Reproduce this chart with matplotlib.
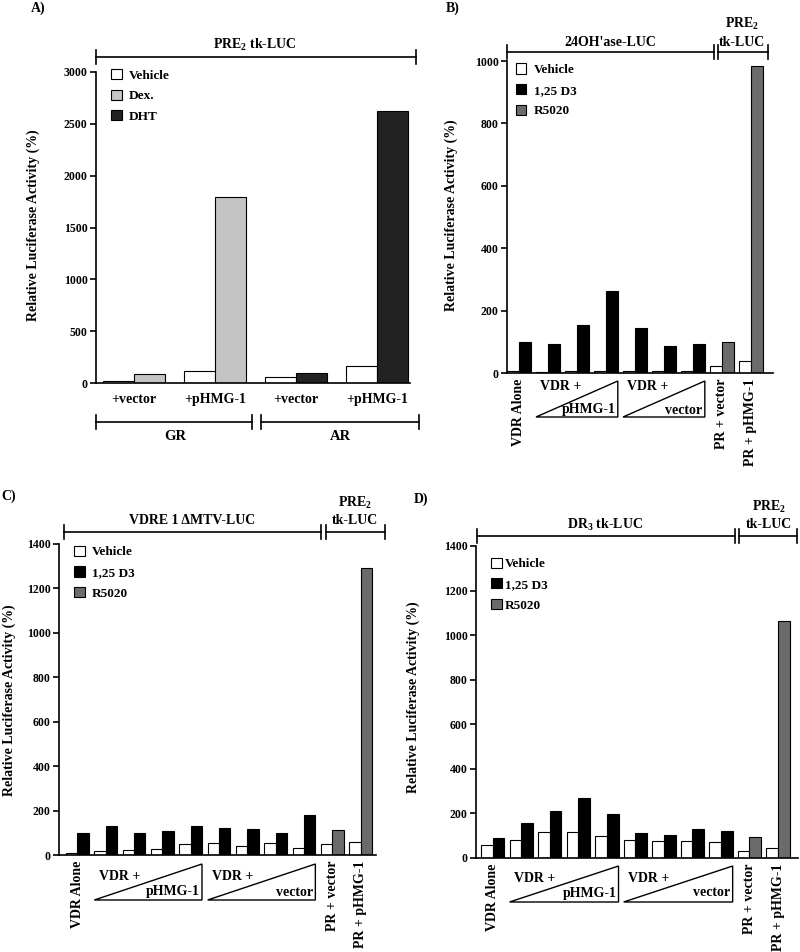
import matplotlib
matplotlib.use('Agg')
import matplotlib.pyplot as plt
from matplotlib.patches import Polygon
from matplotlib.lines import Line2D
import matplotlib.transforms as mtrans

plt.rcParams['font.family'] = ['Liberation Serif', 'DejaVu Serif']
plt.rcParams['font.weight'] = 'bold'
plt.rcParams['mathtext.default'] = 'regular'

# ---------------- data ----------------
# Panel A (PRE2 tk-LUC)
a_groups = ['+vector', '+pHMG-1', '+vector', '+pHMG-1']
a_vehicle = [20, 120, 55, 167]
a_dex = [90, 1795]          # GR groups
a_dht = [95, 2620]          # AR groups
a_yticks = [0, 500, 1000, 1500, 2000, 2500, 3000]

# Panel B (24OH'ase-LUC)
b_vehicle = [5, 2, 5, 5, 5, 5, 5, 22, 39]
b_d3 = [100, 93, 153, 264, 144, 88, 94]
b_r5020 = [99, 984]
b_yticks = [0, 200, 400, 600, 800, 1000]

# Panel C (VDRE 1 dMTV-LUC)
c_vehicle = [10, 18, 22, 27, 50, 56, 42, 56, 32, 50, 60]
c_d3 = [100, 129, 100, 110, 132, 122, 118, 100, 180]
c_r5020 = [111, 1292]
cd_yticks = [0, 200, 400, 600, 800, 1000, 1200, 1400]

# Panel D (DR3 tk-LUC)
d_vehicle = [57, 82, 115, 115, 99, 79, 75, 78, 70, 30, 45]
d_d3 = [91, 159, 210, 271, 199, 114, 105, 129, 123]
d_r5020 = [93, 1064]

pr_labels = ['PR + vector', 'PR + pHMG-1']
vdr_alone = 'VDR Alone'
legend_A = ['Vehicle', 'Dex.', 'DHT']
legend_BCD = ['Vehicle', '1,25 D3', 'R5020']

# ---------------- style ----------------
C_VEH = 'white'
C_DEX = '#c4c4c4'
C_DHT = '#222222'
C_D3 = '#000000'
C_R50 = '#6b6b6b'
EC = 'black'
LW = 0.8

W, H = 800, 952
fig = plt.figure(figsize=(8, 9.52), dpi=100)

def fx(x):
    return x / W

def fy(y):
    return 1 - y / H

def add_axes(l, t, r, b):
    return fig.add_axes([fx(l), fy(b), (r - l) / W, (b - t) / H])

def style_axes(ax, yticks, ylim):
    for s in ['top', 'right']:
        ax.spines[s].set_visible(False)
    ax.spines['left'].set_linewidth(1.2)
    ax.spines['bottom'].set_linewidth(1.2)
    ax.set_ylim(*ylim)
    ax.set_yticks(yticks)
    ax.tick_params(axis='y', direction='out', length=4, width=1.2, labelsize=8.5, pad=2)
    ax.tick_params(axis='x', length=0)
    for lab in ax.get_yticklabels():
        lab.set_fontweight('bold')

def fline(x0, y0, x1, y1, lw=1.2):
    fig.add_artist(Line2D([fx(x0), fx(x1)], [fy(y0), fy(y1)], color='black', lw=lw,
                          transform=fig.transFigure))

def bracket(x0, x1, y, h=7):
    fline(x0, y, x1, y)
    fline(x0, y - h, x0, y + h)
    fline(x1, y - h, x1, y + h)

def ftext(x, y, s, size=10, ha='center', va='center', rot=0):
    fig.text(fx(x), fy(y), s, fontsize=size, ha=ha, va=va, rotation=rot, fontweight='bold')

LEG_KW = dict(frameon=False, fontsize=9.5, handlelength=0.8, handleheight=0.8,
              labelspacing=0.6, borderaxespad=0, borderpad=0)

# ---------------- Panel A ----------------
axA = add_axes(96, 72, 410, 383)
wA = 0.385
xa = list(range(len(a_groups)))
axA.bar([x - wA / 2 for x in xa], a_vehicle, wA, color=C_VEH, edgecolor=EC, lw=LW, label=legend_A[0])
axA.bar([x + wA / 2 for x in xa[:2]], a_dex, wA, color=C_DEX, edgecolor=EC, lw=LW, label=legend_A[1])
axA.bar([x + wA / 2 for x in xa[2:]], a_dht, wA, color=C_DHT, edgecolor=EC, lw=LW, label=legend_A[2])
axA.set_xlim(-0.47, 3.41)
style_axes(axA, a_yticks, (0, 3000))
axA.set_xticks(xa)
axA.set_xticklabels(a_groups, fontsize=10, fontweight='bold')
axA.tick_params(axis='x', pad=7)
axA.legend(loc='upper left', bbox_to_anchor=(0.048, 1.009), handletextpad=0.55, **LEG_KW)

ftext(38, 8, 'A)', 10)
bracket(96, 416, 57)
ftext(255, 45, 'PRE$_2$ tk-LUC', 10)
bracket(96, 252, 422)
bracket(261, 419, 422)
ftext(175, 437, 'GR', 10.5)
ftext(340, 437, 'AR', 10.5)
ftext(33, 225, 'Relative Luciferase Activity (%)', 10, rot=90)

# ---------------- helper for B/C/D ----------------
def panel(box, xlim, w, veh, d3, r50, yticks, ylim, legend_anchor, tri, texts, tpad=0.55):
    l, t, r, b = box
    ax = add_axes(l, t, r, b)
    n = len(veh)
    xs = list(range(n))
    nd = len(d3)
    ax.bar([x - w / 2 for x in xs], veh, w, color=C_VEH, edgecolor=EC, lw=LW, label=legend_BCD[0])
    ax.bar([x + w / 2 for x in xs[:nd]], d3, w, color=C_D3, edgecolor=EC, lw=LW, label=legend_BCD[1])
    ax.bar([x + w / 2 for x in xs[nd:]], r50, w, color=C_R50, edgecolor=EC, lw=LW, label=legend_BCD[2])
    ax.set_xlim(*xlim)
    style_axes(ax, yticks, ylim)
    ax.set_xticks([0, n - 2, n - 1])
    ax.set_xticklabels([vdr_alone] + pr_labels, rotation=90, fontsize=10, fontweight='bold',
                       va='top', ha='center')
    ax.tick_params(axis='x', pad=4)
    ax.legend(loc='upper left', bbox_to_anchor=legend_anchor, handletextpad=tpad, **LEG_KW)
    tr = mtrans.blended_transform_factory(ax.transData, fig.transFigure)
    ytop, ybot = tri
    k = (n - 3) // 2
    groups = [(1, k), (1 + k, 2 * k)]
    words = ['pHMG-1', 'vector']
    for (g0, g1), word in zip(groups, words):
        xl = g0 - w
        xr = g1 + w
        poly = Polygon([(xl, fy(ybot)), (xr, fy(ytop)), (xr, fy(ybot))], closed=True,
                       facecolor='none', edgecolor='black', lw=1.0, transform=tr, clip_on=False)
        fig.add_artist(poly)
        fig.text(xl + 0.15, fy(texts[0]), 'VDR +', transform=tr, fontsize=10, fontweight='bold',
                 ha='left', va='center')
        fig.text(xr - 0.08, fy(texts[1]), word, transform=tr, fontsize=10, fontweight='bold',
                 ha='right', va='center')
    return ax

# ---------------- Panel B ----------------
panel((507, 61, 773, 373), (-0.41, 8.76), 0.41, b_vehicle, b_d3, b_r5020, b_yticks, (0, 1000),
      (0.033, 0.992), (381, 417), (387, 410))
ftext(453, 8, 'B)', 10)
bracket(507, 714, 52)
bracket(718, 768, 52)
ftext(610, 42, "24OH'ase-LUC", 10)
ftext(742, 24, 'PRE$_2$', 10)
ftext(742, 42, 'tk-LUC', 10)
ftext(451, 215, 'Relative Luciferase Activity (%)', 10, rot=90)

# ---------------- Panel C ----------------
panel((59, 544, 376, 855), (-0.645, 10.54), 0.40, c_vehicle, c_d3, c_r5020, cd_yticks, (0, 1400),
      (0.048, 0.994), (864, 900), (877, 892))
ftext(9, 496, 'C)', 10)
bracket(64, 321, 532)
bracket(326, 385, 532)
ftext(192, 521, 'VDRE 1 \u0394MTV-LUC', 10)
ftext(355, 503, 'PRE$_2$', 10)
ftext(355, 521, 'tk-LUC', 10)
ftext(9, 700, 'Relative Luciferase Activity (%)', 10, rot=90)

# ---------------- Panel D ----------------
panel((476, 546, 798, 858), (-0.585, 10.70), 0.41, d_vehicle, d_d3, d_r5020, cd_yticks, (0, 1400),
      (0.047, 0.962), (866, 902), (879, 893), tpad=0.25)
ftext(421, 499, 'D)', 10)
bracket(477, 735, 536)
bracket(739, 797, 536)
ftext(605, 525, 'DR$_3$ tk-LUC', 10)
ftext(769, 507, 'PRE$_2$', 10)
ftext(769, 525, 'tk-LUC', 10)
ftext(413, 697, 'Relative Luciferase Activity (%)', 10, rot=90)

fig.savefig('out.png', dpi=100, facecolor='white')
